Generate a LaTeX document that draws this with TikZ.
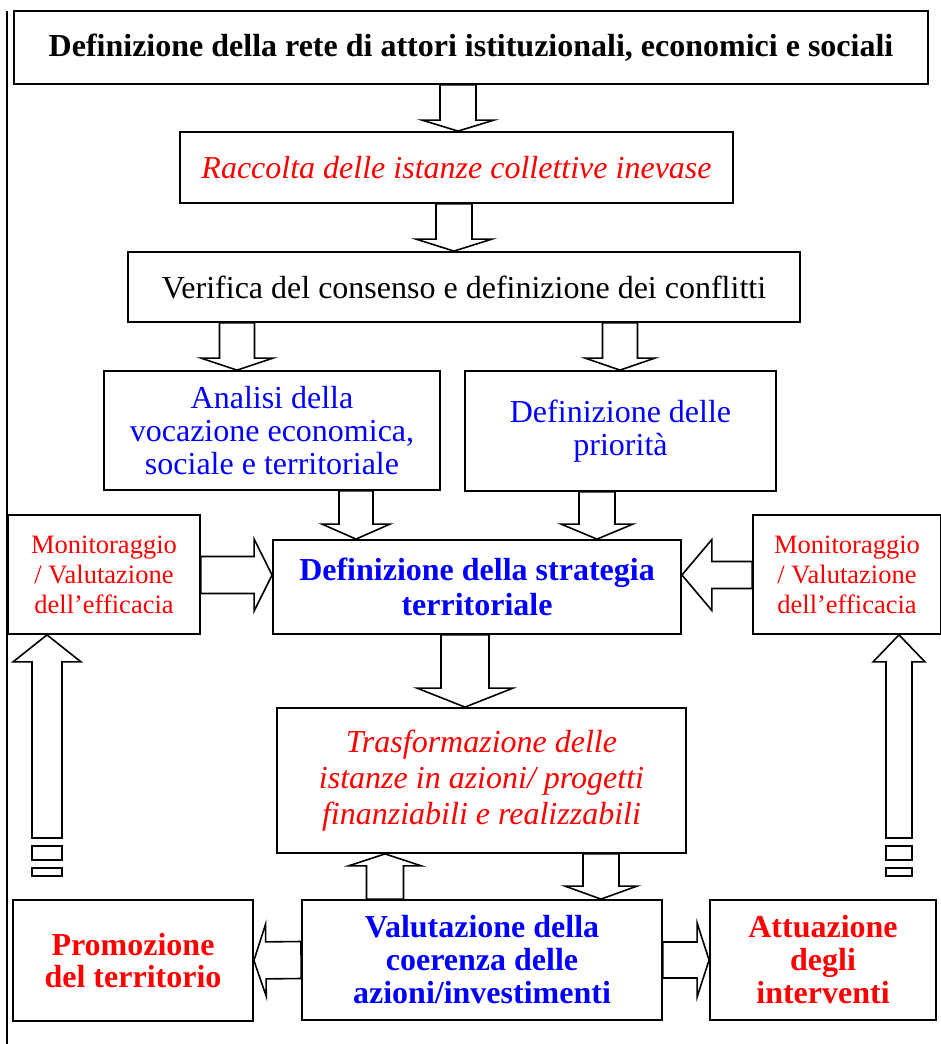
\documentclass[tikz,border=0pt]{standalone}
\usepackage{fontspec}
\setmainfont{Liberation Serif}
\usetikzlibrary{calc}

% hollow block arrow: tail, tip, shaft half width, head half width, head length
\newcommand{\blockarrow}[5]{%
  \coordinate (ba-h) at ($(#2)!#5pt!(#1)$);
  \draw[arrowline] ($(#1)!#3pt!90:(#2)$) -- ($(ba-h)!#3pt!90:(#2)$) -- ($(ba-h)!#4pt!90:(#2)$)
    -- (#2) -- ($(ba-h)!#4pt!-90:(#2)$) -- ($(ba-h)!#3pt!-90:(#2)$) -- ($(#1)!#3pt!-90:(#2)$) -- cycle;
}

\begin{document}
\begin{tikzpicture}[x=1pt, y=-1pt,
  box/.style={draw, line width=1.8pt, align=center, inner sep=0pt},
  arrowline/.style={line width=1.6pt, line join=miter},
  txt/.style={font=\fontsize{32}{33}\selectfont},
  bold/.style={font=\fontsize{32}{33}\selectfont\bfseries},
  ital/.style={font=\fontsize{32}{36}\selectfont\itshape, text=red},
  small/.style={font=\fontsize{26.5}{30}\selectfont, text=red}]

\useasboundingbox (0,0) rectangle (941,1044);

% Frame line on the left
\draw[line width=1.6pt] (7,11) -- (7,1044);

% Draw the boxes
\node[box, bold, minimum width=914pt, minimum height=73pt] (top) at (471,47.5)
  {Definizione della rete di attori istituzionali, economici e sociali};
\node[box, ital, minimum width=553pt, minimum height=71pt] (racc) at (456.5,167.5)
  {Raccolta delle istanze collettive inevase};
\node[box, txt, minimum width=672pt, minimum height=70pt] (verif) at (464,287)
  {Verifica del consenso e definizione dei conflitti};
\node[box, txt, text=blue, minimum width=336pt, minimum height=119pt] (anal) at (272,430.5)
  {Analisi della\\vocazione economica,\\sociale e territoriale};
\node[box, txt, text=blue, minimum width=311pt, minimum height=120pt] (prio) at (620.5,431)
  {Definizione delle\\priorità};
\node[box, small, minimum width=192pt, minimum height=119pt] (monl) at (104,574.5)
  {Monitoraggio\\/ Valutazione\\dell’efficacia};
\node[box, bold, font=\fontsize{32}{35}\selectfont\bfseries, text=blue, minimum width=408pt, minimum height=94pt] (strat) at (477,587)
  {Definizione della strategia\\territoriale};
\node[box, small, minimum width=188pt, minimum height=119pt] (monr) at (847,574.5)
  {Monitoraggio\\/ Valutazione\\dell’efficacia};
\node[box, ital, minimum width=409pt, minimum height=145pt] (trasf) at (481.5,780.5)
  {Trasformazione delle\\istanze in azioni/ progetti\\finanziabili e realizzabili};
\node[box, bold, font=\fontsize{32}{32}\selectfont\bfseries, text=red, minimum width=240pt, minimum height=121pt] (prom) at (133,960.5)
  {Promozione\\del territorio};
\node[box, bold, text=blue, minimum width=360pt, minimum height=120pt] (valu) at (482,960)
  {Valutazione della\\coerenza delle\\azioni/investimenti};
\node[box, bold, text=red, minimum width=226pt, minimum height=120pt] (attu) at (823,960)
  {Attuazione\\degli\\interventi};

% Vertical block arrows
\foreach \xa/\src/\dst/\sw/\hw/\hl in {458/top.south/racc.north/18/36/11,
    454/racc.south/verif.north/18/38/12,
    237/verif.south/anal.north/17.5/36/12,
    620/verif.south/prio.north/17.5/35/12,
    356/anal.south/strat.north/17/34/15,
    597/prio.south/strat.north/18/36/15,
    465/strat.south/trasf.north/24/48/19,
    601/trasf.south/valu.north/18/36/13,
    385/valu.north/trasf.south/18.5/36.5/12} {
  \coordinate (t) at (\xa,0);
  \blockarrow{t |- \src}{t |- \dst}{\sw}{\hw}{\hl}
}

% Horizontal block arrows
\coordinate (ym) at (0,575);
\blockarrow{monl.east |- ym}{strat.west |- ym}{18.5}{36}{18}
\blockarrow{monr.west |- ym}{strat.east |- ym}{13.5}{35.5}{30}
\blockarrow{valu.west}{prom.east}{18.5}{36}{12}
\blockarrow{valu.east}{attu.west}{18}{37}{12}

% Long arrows up to the monitoring boxes
\coordinate (ltail) at (47,838);
\coordinate (rtail) at (899,838);
\blockarrow{ltail}{ltail |- monl.south}{15}{34}{27}
\blockarrow{rtail}{rtail |- monr.south}{13}{26}{27}
\draw[arrowline] ([xshift=-15pt,yshift=-8pt]ltail) rectangle +(30,14);
\draw[arrowline] ([xshift=-15pt,yshift=-30pt]ltail) rectangle +(30,8);
\draw[arrowline] ([xshift=-13pt,yshift=-8pt]rtail) rectangle +(26,14);
\draw[arrowline] ([xshift=-13pt,yshift=-30pt]rtail) rectangle +(26,8);

\end{tikzpicture}
\end{document}
